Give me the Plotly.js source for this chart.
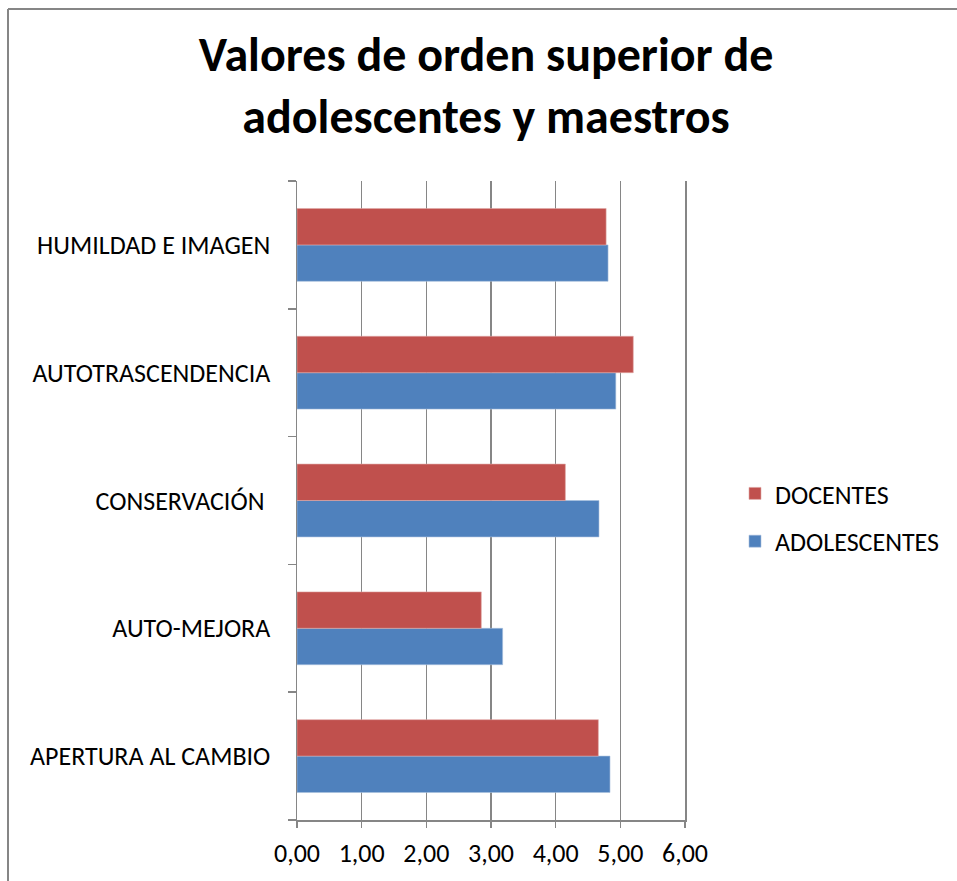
<!DOCTYPE html>
<html>
<head>
<meta charset="utf-8">
<script src="https://cdn.plot.ly/plotly-3.0.1.min.js"></script>
<style>html,body{margin:0;padding:0;background:#fff;}#chart{width:957px;height:881px;}</style>
</head>
<body>
<div id="chart"></div>
<script>
const categories = ["APERTURA AL CAMBIO", "AUTO-MEJORA", "CONSERVACIÓN ", "AUTOTRASCENDENCIA", "HUMILDAD E IMAGEN"];
const adolescentes = [4.84, 3.18, 4.67, 4.93, 4.81];
const docentes = [4.66, 2.85, 4.15, 5.20, 4.78];
const xTickVals = [0, 1, 2, 3, 4, 5, 6];
const titleText = "Valores de orden superior de<br>adolescentes y maestros";

const W = 957, H = 881;
const L = 297, R = 685, T = 181, B = 820;
const px = v => (v - L) / (R - L);
const py = v => (B - v) / (B - T);

const font = "Calibri, Carlito, Lato, sans-serif";

const traces = [
  {type: "bar", orientation: "h", name: "ADOLESCENTES", y: categories, x: adolescentes,
   marker: {color: "#4F81BD", line: {color: "#A7C0DE", width: 0.6}}, legendgroup: "a", legendrank: 2, hoverinfo: "x+y"},
  {type: "bar", orientation: "h", name: "DOCENTES", y: categories, x: docentes,
   marker: {color: "#C0504D", line: {color: "#DFA8A6", width: 0.6}}, legendgroup: "d", legendrank: 1, hoverinfo: "x+y"}
];

const layout = {
  width: W, height: H,
  margin: {l: L, r: W - R, t: T, b: H - B, pad: 0},
  paper_bgcolor: "#fff", plot_bgcolor: "#fff",
  font: {family: font, size: 26, color: "#000"},
  separators: ",.",
  barmode: "group", bargap: 0.43, bargroupgap: 0,
  title: {text: titleText, x: 486 / W, xanchor: "center", xref: "container",
          y: 1 - 71 / H, yanchor: "top", yref: "container",
          font: {family: font, size: 48, weight: 700, color: "#000"}},
  xaxis: {range: [0, 6], tickvals: xTickVals, tickformat: ".2f", showgrid: true, gridcolor: "#868686", gridwidth: 1.5,
          zeroline: false, showline: true, linecolor: "#868686", linewidth: 1.5,
          ticks: "outside", ticklen: 6, tickcolor: "#868686", tickwidth: 1.5,
          ticklabelstandoff: 3,
          tickfont: {size: 26, color: "#000"}, fixedrange: true},
  yaxis: {type: "category", categoryorder: "array", categoryarray: categories,
          showgrid: false, zeroline: false, showline: true, mirror: true, linecolor: "#868686", linewidth: 1.5,
          ticks: "outside", tickson: "boundaries", ticklen: 8, tickcolor: "#868686", tickwidth: 1.5,
          ticklabelstandoff: 20,
          tickfont: {size: 26, color: "#000"}, fixedrange: true},
  legend: {x: px(735), xanchor: "left", y: py(470), yanchor: "top", traceorder: "grouped",
           tracegroupgap: 11, bgcolor: "rgba(0,0,0,0)", font: {size: 26, color: "#000"}},
  shapes: [
    {type: "line", xref: "paper", yref: "paper", x0: px(8), x1: px(8), y0: py(9), y1: py(881), line: {color: "#868686", width: 2}},
    {type: "line", xref: "paper", yref: "paper", x0: px(8), x1: px(957), y0: py(9), y1: py(9), line: {color: "#868686", width: 2}}
  ],
  showlegend: true
};

Plotly.newPlot("chart", traces, layout, {displayModeBar: false, staticPlot: true});
</script>
</body>
</html>
